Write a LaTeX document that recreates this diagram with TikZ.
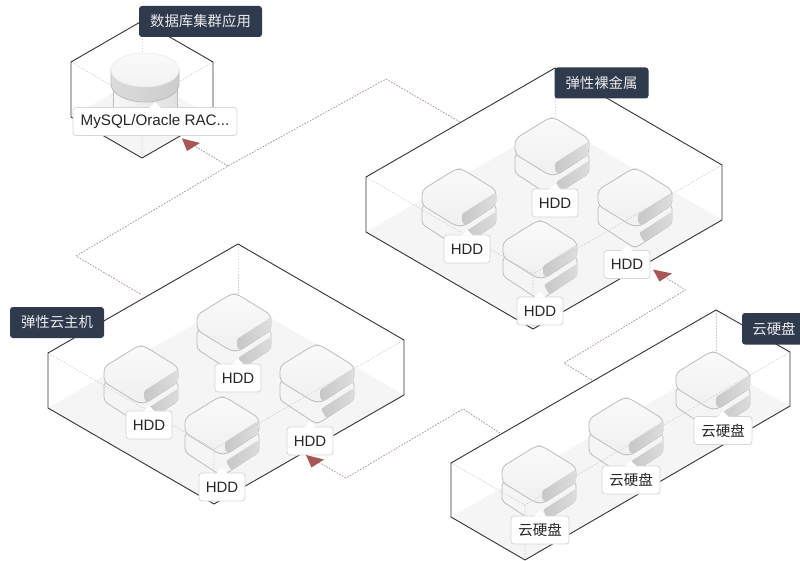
\documentclass[tikz,border=0pt]{standalone}
\usepackage{fontspec}
\setmainfont{Liberation Sans}
\newfontfamily\cjk{Noto Sans CJK SC}
\definecolor{titlebg}{HTML}{2F3A4D}
\definecolor{linkcol}{HTML}{B3949A}
\definecolor{tipcol}{HTML}{A95656}
\definecolor{floorcol}{HTML}{F5F5F5}
\definecolor{edgecol}{HTML}{333333}
\definecolor{innercol}{HTML}{CDCDCD}
\definecolor{unitedge}{HTML}{BCBCBC}
\tikzset{
  titlebox/.style={fill=titlebg,rounded corners=3pt,text=white!90!titlebg,minimum height=31pt,inner sep=0pt,font=\cjk\fontsize{14.4}{16}\selectfont},
  tagbox/.style={fill=white,draw=black!16,line width=.8pt,rounded corners=3pt,minimum height=28pt,inner sep=0pt,text=black!85,font=\fontsize{15}{17}\selectfont},
  hddtag/.style={tagbox,minimum width=46pt},
  cjktag/.style={tagbox,minimum width=58pt,font=\cjk\fontsize{14.5}{16}\selectfont},
  outline/.style={draw=edgecol,line width=.9pt,line join=round},
  innerline/.style={draw=innercol,line width=.6pt,dash pattern=on 1.5pt off 1.5pt},
  floorface/.style={fill=floorcol},
  linkline/.style={draw=linkcol,line width=.8pt,dash pattern=on 1.6pt off 1.4pt},
  tiptri/.style={fill=tipcol},
  pics/diskstack/.style={code={
    % lower unit
    \path[draw=unitedge,line width=.8pt,fill=black!4,rounded corners=3.5pt] (-37,37) -- (-37,56) -- (-2,79) -- (2,79) -- (37,56) -- (37,37) -- cycle;
    \path[left color=black!22,right color=black!14,rounded corners=1.5pt] (4,65) -- (36.6,44) -- (36.6,56.5) -- (9,74) -- cycle;
    % upper unit
    \path[draw=unitedge,line width=.8pt,top color=black!2,bottom color=black!6,rounded corners=4.5pt] (-3,1) -- (3,1) -- (37,22) -- (37,37) -- (5,58) -- (-3,58) -- (-37,37) -- (-37,22) -- cycle;
    \path[left color=black!22,right color=black!13,rounded corners=1.5pt] (3,46) -- (36.6,24.5) -- (36.6,37) -- (6,57) -- (3,54) -- cycle;
  }}
}
\newcommand{\tagpointer}[1]{\fill[white] ([xshift=-6pt,yshift=-1pt]#1.north) -- ([yshift=5pt]#1.north) -- ([xshift=6pt,yshift=-1pt]#1.north) -- cycle;}
\begin{document}
\begin{tikzpicture}[x=1pt,y=-1pt]
\useasboundingbox (0,0) rectangle (800,561);
\fill[white] (0,0) rectangle (800,561);

% floors
\fill[floorface] (142,76) -- (213,117) -- (142,158) -- (71,117) -- cycle;
\fill[floorface] (555,123) -- (722,220) -- (533,329) -- (366,232) -- cycle;
\fill[floorface] (238,299) -- (404,395) -- (214,504) -- (48,408) -- cycle;
\fill[floorface] (716,365) -- (790,406) -- (525,560) -- (451,517) -- cycle;

% back inner lines
\draw[innerline] (142,21) -- (142,76);
\draw[innerline] (555,68) -- (555,123);
\draw[innerline] (238,244) -- (238,299);
\draw[innerline] (716,310) -- (716,365);
\draw[innerline] (71,62) -- (142,103) -- (213,62) (142,103) -- (142,158);

% disk units
\pic at (552,117) {diskstack};
\pic at (459,168) {diskstack};
\pic at (635,168) {diskstack};
\pic at (540,220) {diskstack};
\pic at (234,293) {diskstack};
\pic at (141,345) {diskstack};
\pic at (317,344) {diskstack};
\pic at (222,396) {diskstack};
\pic at (713,351) {diskstack};
\pic at (626,397) {diskstack};
\pic at (539,445) {diskstack};

% database cylinder
\path[draw=unitedge,line width=.7pt,left color=black!3,right color=black!12] (113,84) -- (113,130) -- (177,130) -- (177,84) -- cycle;
\path[draw=unitedge,line width=.8pt,left color=black!14,middle color=black!4,right color=black!20] (111,70) -- (111,84) arc[start angle=180,end angle=0,x radius=34,y radius=18] -- (179,70) -- cycle;
\path[top color=black!2,bottom color=black!5,draw=black!9,line width=.5pt] (145,70) ellipse[x radius=34,y radius=17];

% front inner lines
\draw[innerline] (366,177) -- (533,274) -- (722,165) (533,274) -- (533,329);
\draw[innerline] (48,353) -- (214,449) -- (404,340) (214,449) -- (214,504);
\draw[innerline] (451,463) -- (525,505) -- (790,352) (525,505) -- (525,560);

% outlines
\draw[outline] (142,21) -- (213,62) -- (213,117) -- (142,158) -- (71,117) -- (71,62) -- cycle;
\draw[outline] (555,68) -- (722,165) -- (722,220) -- (533,329) -- (366,232) -- (366,177) -- cycle;
\draw[outline] (238,244) -- (404,340) -- (404,395) -- (214,504) -- (48,408) -- (48,353) -- cycle;
\draw[outline] (716,310) -- (790,352) -- (790,406) -- (525,560) -- (451,517) -- (451,463) -- cycle;

% tags
\node[hddtag] (t1) at (555,203) {HDD}; \tagpointer{t1}
\node[hddtag] (t2) at (467,249) {HDD}; \tagpointer{t2}
\node[hddtag] (t3) at (627,264.5) {HDD}; \tagpointer{t3}
\node[hddtag] (t4) at (540,311) {HDD}; \tagpointer{t4}
\node[hddtag] (t5) at (238,378) {HDD}; \tagpointer{t5}
\node[hddtag] (t6) at (149,425) {HDD}; \tagpointer{t6}
\node[hddtag] (t7) at (310,441) {HDD}; \tagpointer{t7}
\node[hddtag] (t8) at (222,487) {HDD}; \tagpointer{t8}
\node[cjktag] (c1) at (723,430.5) {云硬盘}; \tagpointer{c1}
\node[cjktag] (c2) at (631,480) {云硬盘}; \tagpointer{c2}
\node[cjktag] (c3) at (540,530) {云硬盘}; \tagpointer{c3}
\node[tagbox,minimum width=164pt,font=\fontsize{15.2}{17}\selectfont] (db) at (155,121.5) {MySQL/Oracle RAC...}; \tagpointer{db}

% titles
\node[titlebox,minimum width=123pt] (dbtitle) at (200.5,21.5) {数据库集群应用};
\node[titlebox,minimum width=94pt] (metaltitle) at (601.5,83) {弹性裸金属};
\node[titlebox,minimum width=94pt] (vmtitle) at (57,322.5) {弹性云主机};
\path[fill=titlebg,rounded corners=3pt] (742,313) rectangle (815,344.5);
\node[text=white!90!titlebg,font=\cjk\fontsize{14.4}{16}\selectfont,inner sep=0pt] (disktitle) at (774,329) {云硬盘};

% connectors
\coordinate (a1) at (460,122);
\coordinate (a2) at (386,79);
\coordinate (a3) at (228,166);
\coordinate (a4) at (76,256);
\coordinate (a5) at (142,295);
\coordinate (a6) at (182,138.5);
\draw[linkline] (a3) -- (a6);
\draw[linkline] (a1) -- (a2) -- (a3) -- (a4) -- (a5);
\fill[tiptri] (a6) -- ++(18,4.5) -- ++(-13,8) -- cycle;
\coordinate (b1) at (500,433);
\coordinate (b2) at (463,409);
\coordinate (b3) at (346,478);
\coordinate (b4) at (306,455);
\draw[linkline] (b1) -- (b2) -- (b3) -- (b4);
\fill[tiptri] (b4) -- ++(18,4.5) -- ++(-12.5,8) -- cycle;
\coordinate (d1) at (592,380);
\coordinate (d2) at (564,363);
\coordinate (d3) at (685.5,290);
\coordinate (d4) at (653,269.5);
\draw[linkline] (d1) -- (d2) -- (d3) -- (d4);
\fill[tiptri] (d4) -- ++(19,4) -- ++(-12.5,8) -- cycle;
\end{tikzpicture}
\end{document}
